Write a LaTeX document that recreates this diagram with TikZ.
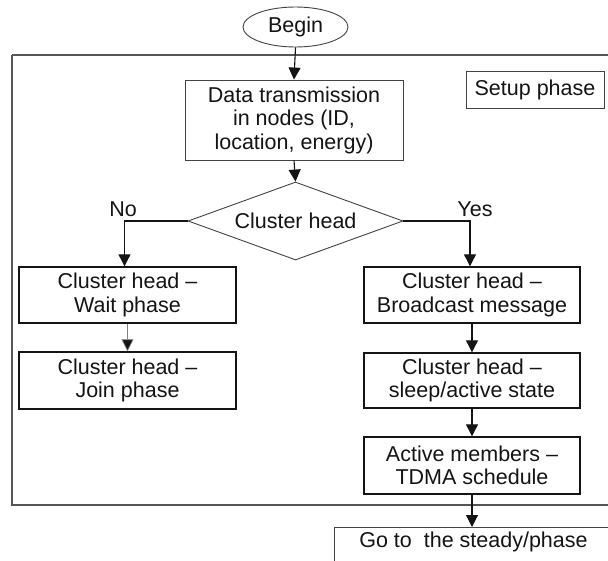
\documentclass[tikz,border=0pt]{standalone}
\usepackage{fontspec}
\setmainfont{Liberation Sans}
\usetikzlibrary{arrows.meta,shapes.geometric}
\definecolor{ink}{HTML}{141414}
\definecolor{framegray}{HTML}{555555}
\begin{document}
\begin{tikzpicture}[x=1pt,y=-1pt,
  every node/.style={font=\fontsize{21.5}{23.5}\selectfont, text=ink, align=center, inner sep=0pt},
  box/.style={draw=ink, line width=1.4pt, rectangle, minimum width=217pt},
  thinbox/.style={draw=ink!80, line width=0.9pt, rectangle},
  conn/.style={draw=ink, line width=1.1pt, -{Triangle[length=12pt,width=12pt]}},
  thinconn/.style={draw=gray, line width=0.7pt, -{Triangle[length=12pt,width=12pt,fill=ink]}},
  lbl/.style={font=\fontsize{21.5}{23.5}\selectfont}
]
\useasboundingbox (0,0) rectangle (608,560);
\clip (0,0) rectangle (608,560);
\fill[white] (0,0) rectangle (608,560);
% outer frame
\draw[framegray, line width=1.1pt] (12,55) -- (620,55) (12,55) -- (12,505) -- (620,505);
% nodes
\node[ellipse, draw=ink!80, line width=0.9pt, minimum width=105pt, minimum height=40pt] (begin) at (295.5,27) {Begin};
\node[thinbox, minimum width=218pt, minimum height=80pt] (data) at (294,120) {Data transmission\\in nodes (ID,\\location, energy)};
\node[thinbox, minimum width=138pt, minimum height=37pt] (setup) at (535,89.5) {Setup phase};
\node[diamond, draw=ink!80, line width=0.9pt, aspect=2.76, minimum width=215pt, minimum height=78pt] (dec) at (295.5,221) {Cluster head};
\node[box, minimum height=56pt] (wait) at (127.5,295) {Cluster head –\\Wait phase};
\node[box, minimum height=57pt] (join) at (127.5,380.5) {Cluster head –\\Join phase};
\node[box, minimum width=216pt, minimum height=56pt] (bcast) at (472,295) {Cluster head –\\Broadcast message};
\node[box, minimum width=216pt, minimum height=55pt] (sleep) at (472,380.5) {Cluster head –\\sleep/active state};
\node[box, minimum width=216pt, minimum height=57pt] (act) at (472,465.5) {Active members –\\TDMA schedule};
\node[draw=ink!80, line width=0.9pt, rectangle, anchor=north west, minimum width=278pt,
      text height=17pt, text depth=20pt, inner ysep=3pt] (go) at (334,527) {Go to~ the steady/phase};
% labels
\node[lbl] (no) at (123,209) {No};
\node[lbl] (yes) at (475,209) {Yes};
% connectors
\draw[conn] (begin.south) -- (data.north);
\draw[conn] (data.south) -- (dec.north);
\draw[conn] (dec.west) -| ([xshift=-3pt]wait.north);
\draw[conn] (dec.east) -| ([xshift=-2pt]bcast.north);
\draw[thinconn] (wait.south) -- (join.south |- join.north);
\draw[conn] (bcast.south) -- (sleep.north);
\draw[conn] (sleep.south) -- (act.north);
\draw[conn] (act.south) -- (act.south |- go.north);
\end{tikzpicture}
\end{document}
